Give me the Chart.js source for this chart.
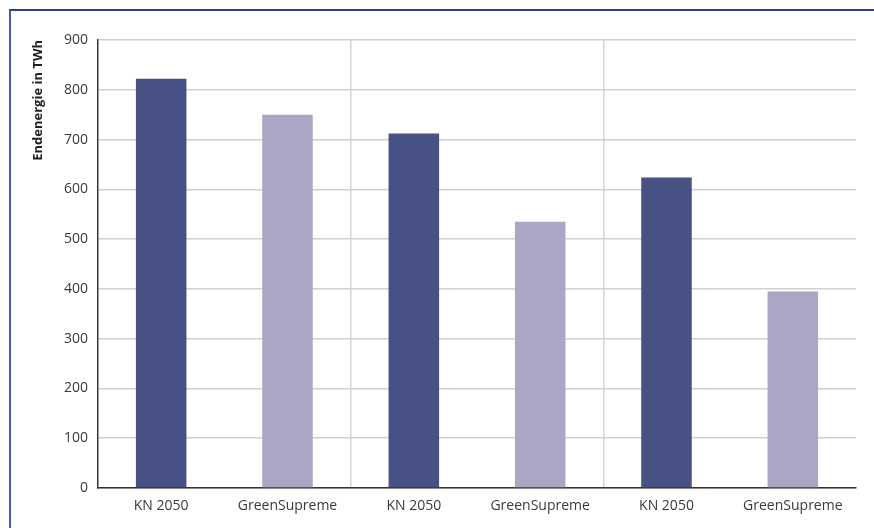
<!DOCTYPE html>
<html>
<head>
<meta charset="utf-8">
<script src="https://cdn.jsdelivr.net/npm/chart.js@4/dist/chart.umd.min.js"></script>
<style>
  html, body { margin: 0; padding: 0; background: #fff; }
  #wrap { position: relative; width: 874px; height: 528px; }
  #frame {
    position: absolute; left: 9px; top: 9px; right: 0; bottom: 0;
    border-top: 2px solid #2c3d93; border-left: 2px solid #4a5aa8;
  }
  canvas { position: absolute; left: 0; top: 0; }
</style>
</head>
<body>
<div id="wrap">
  <div id="frame"></div>
  <canvas id="chart" width="874" height="528"></canvas>
</div>
<script>
// ---------- DATA ----------
const categories = ["KN 2050", "GreenSupreme", "KN 2050", "GreenSupreme", "KN 2050", "GreenSupreme"];
const values = [822, 750, 712, 535, 624, 395];
const barColors = ["#485184", "#aaa7c6", "#485184", "#aaa7c6", "#485184", "#aaa7c6"];
const yTicks = [0, 100, 200, 300, 400, 500, 600, 700, 800, 900];
const yTitle = "Endenergie in TWh";

const textColor = "#3a3a3a";
const fontFamily = "'Open Sans', 'Noto Sans', sans-serif";

// ---------- CHART ----------
const ctx = document.getElementById("chart").getContext("2d");

new Chart(ctx, {
  type: "bar",
  data: {
    labels: categories,
    datasets: [{
      data: values,
      backgroundColor: barColors,
      borderWidth: 0,
      categoryPercentage: 1,
      barPercentage: 0.4
    }]
  },
  options: {
    responsive: false,
    animation: false,
    layout: { padding: { top: 40, right: 18, left: 0, bottom: 0 } },
    plugins: {
      legend: { display: false },
      tooltip: { enabled: false }
    },
    scales: {
      x: {
        grid: {
          offset: true,
          drawTicks: false,
          lineWidth: 1.5,
          // only separators between the pairs and at the right edge
          color: (c) => (c.index === 2 || c.index === 4 || c.index === 6) ? "#d6d6d6" : "rgba(0,0,0,0)"
        },
        border: { display: true, color: "#3b3526", width: 1.5 },
        ticks: {
          color: textColor,
          font: { family: fontFamily, size: 14 },
          padding: 10,
          maxRotation: 0
        },
        afterFit: (scale) => { scale.height = 40; }
      },
      y: {
        min: 0,
        max: 900,
        afterBuildTicks: (scale) => { scale.ticks = yTicks.map(v => ({ value: v })); },
        grid: { drawTicks: false, color: "#d0d0d0", lineWidth: 1.5 },
        border: { display: true, color: "#3b3526", width: 1.5 },
        ticks: {
          color: textColor,
          font: { family: fontFamily, size: 14 },
          padding: 10
        },
        title: {
          display: true,
          text: yTitle,
          align: "end",
          color: "#222",
          font: { family: fontFamily, size: 13, weight: "bold" },
          padding: { top: 30, bottom: 0 }
        },
        afterFit: (scale) => { scale.width = 98; }
      }
    }
  }
});
</script>
</body>
</html>
